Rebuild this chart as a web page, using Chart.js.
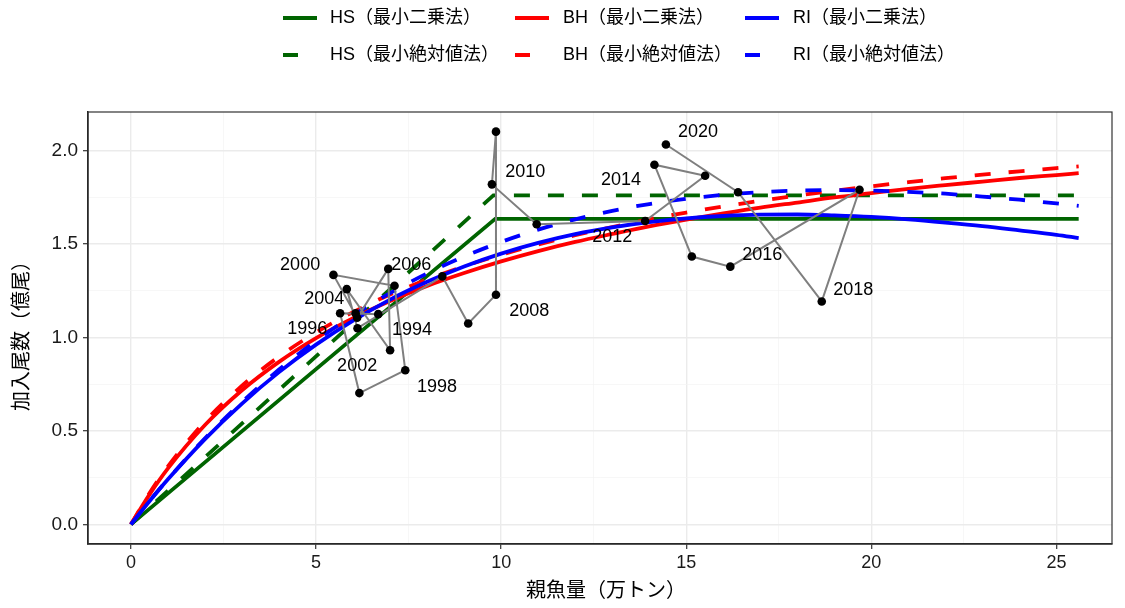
<!DOCTYPE html>
<html>
<head>
<meta charset="utf-8">
<script src="https://cdn.jsdelivr.net/npm/chart.js@4.4.1/dist/chart.umd.min.js"></script>
<style>
  html, body { margin: 0; padding: 0; background: #fff; }
  #wrap { width: 1125px; height: 608px; }
</style>
</head>
<body>
<div id="wrap"><canvas id="myChart" width="1125" height="608"></canvas></div>
<script>
// observed stock (SSB, 10k t) and recruits (100M fish) by year
const years = [1994, 1995, 1996, 1997, 1998, 1999, 2000, 2001, 2002, 2003, 2004, 2005, 2006, 2007,
  2008, 2009, 2010, 2011, 2012, 2013, 2014, 2015, 2016, 2017, 2018, 2019, 2020];
const ssb = [6.68, 6.07, 5.65, 6.17, 7.41, 7.12, 5.47, 6.11, 6.95, 7.00, 5.83, 6.12, 8.41, 9.11,
  9.86, 9.86, 9.75, 10.96, 13.89, 15.51, 14.14, 15.15, 16.19, 19.68, 18.66, 16.40, 14.45];
const recruits = [1.124, 1.128, 1.129, 0.702, 0.824, 1.276, 1.334, 1.105, 1.366, 0.931, 1.258, 1.049, 1.326, 1.074,
  1.228, 2.100, 1.818, 1.605, 1.622, 1.864, 1.923, 1.432, 1.378, 1.789, 1.192, 1.776, 2.031];

// year labels and where their text sits (data units)
const labelYears = [1994, 1996, 1998, 2000, 2002, 2004, 2006, 2008, 2010, 2012, 2014, 2016, 2018, 2020];
const labelX = [7.59, 4.76, 8.27, 4.57, 6.11, 5.22, 7.57, 10.76, 10.65, 13.0, 13.24, 17.05, 19.51, 15.32];
const labelY = [1.040, 1.046, 0.735, 1.389, 0.847, 1.206, 1.389, 1.142, 1.882, 1.539, 1.839, 1.442, 1.255, 2.097];

// fitted curves
const curveX = [0, 0.5, 1, 2, 3, 4, 5, 6, 7, 8, 9, 10, 11, 12, 13, 14, 15, 16, 17, 18, 19, 20, 21, 22, 23, 24, 25, 25.6];
const bhLS = [0, 0.159, 0.299, 0.531, 0.717, 0.869, 0.996, 1.103, 1.195, 1.275, 1.344, 1.406, 1.461, 1.510, 1.553,
  1.594, 1.630, 1.663, 1.694, 1.721, 1.748, 1.771, 1.794, 1.814, 1.833, 1.852, 1.868, 1.878];
const bhLAD = [0, 0.166, 0.310, 0.550, 0.741, 0.897, 1.026, 1.135, 1.229, 1.309, 1.380, 1.442, 1.497, 1.546, 1.590,
  1.631, 1.667, 1.700, 1.730, 1.758, 1.784, 1.808, 1.830, 1.851, 1.870, 1.888, 1.905, 1.914];
const riLS = [0, 0.124, 0.241, 0.456, 0.646, 0.814, 0.961, 1.090, 1.202, 1.297, 1.379, 1.448, 1.505, 1.552, 1.588,
  1.616, 1.636, 1.649, 1.656, 1.657, 1.652, 1.644, 1.631, 1.614, 1.595, 1.572, 1.548, 1.531];
const riLAD = [0, 0.124, 0.242, 0.460, 0.654, 0.828, 0.982, 1.118, 1.237, 1.342, 1.432, 1.510, 1.576, 1.631, 1.676,
  1.713, 1.741, 1.762, 1.776, 1.785, 1.787, 1.785, 1.778, 1.768, 1.753, 1.736, 1.716, 1.703];
const hsLSX = [0, 9.84, 25.6];
const hsLS = [0, 1.634, 1.634];
const hsLADX = [0, 9.79, 25.6];
const hsLAD = [0, 1.759, 1.759];

const xTicks = [0, 2.5, 5, 7.5, 10, 12.5, 15, 17.5, 20, 22.5, 25];
const yTicks = [0, 0.25, 0.5, 0.75, 1, 1.25, 1.5, 1.75, 2];

const legendNames = ['HS（最小二乗法）', 'BH（最小二乗法）', 'RI（最小二乗法）',
  'HS（最小絶対値法）', 'BH（最小絶対値法）', 'RI（最小絶対値法）'];
const GREEN = '#006400', RED = '#FF0000', BLUE = '#0000FF';
const legendColors = [GREEN, RED, BLUE, GREEN, RED, BLUE];

const FONT = "'Liberation Sans', Arial, 'Noto Sans CJK JP', sans-serif";
const NARROW = "'Liberation Sans Narrow', 'Liberation Sans', Arial, 'Noto Sans CJK JP', sans-serif";
const DASH = [16, 18];

const pts = (xs, ys) => xs.map((x, i) => ({ x: x, y: ys[i] }));

const isMajorX = v => Math.abs(v % 5) < 1e-9;
const isMajorY = v => Math.abs((v * 2) % 1) < 1e-9;

const annotations = {
  id: 'annotations',
  afterDatasetsDraw(chart) {
    const { ctx, chartArea: a, scales: { x, y } } = chart;
    ctx.save();
    // year labels
    ctx.font = '18px ' + FONT;
    ctx.fillStyle = '#000';
    ctx.textAlign = 'center';
    ctx.textBaseline = 'middle';
    labelYears.forEach((yr, i) => {
      ctx.fillText(String(yr), x.getPixelForValue(labelX[i]), y.getPixelForValue(labelY[i]));
    });
    // panel border
    ctx.strokeStyle = '#333';
    ctx.lineWidth = 1.2;
    ctx.strokeRect(a.left, a.top, a.right - a.left, a.bottom - a.top);
    ctx.restore();
  },
  afterDraw(chart) {
    const { ctx, chartArea: a } = chart;
    ctx.save();
    ctx.fillStyle = '#000';
    ctx.font = '20px ' + FONT;
    ctx.textAlign = 'center';
    ctx.textBaseline = 'middle';
    ctx.fillText('親魚量（万トン）', (a.left + a.right) / 2 + 6, 591);
    ctx.save();
    ctx.translate(22, (a.top + a.bottom) / 2 + 3);
    ctx.rotate(-Math.PI / 2);
    ctx.fillText('加入尾数（億尾）', 0, 0);
    ctx.restore();

    // legend, 3 columns x 2 rows
    const sampleX = [283, 515, 745];
    const textX = [330, 563, 793];
    const rowY = [18, 55];
    ctx.font = '18px ' + FONT;
    ctx.textAlign = 'left';
    legendNames.forEach((name, i) => {
      const col = i % 3, row = Math.floor(i / 3);
      ctx.strokeStyle = legendColors[i];
      ctx.lineWidth = 4;
      ctx.beginPath();
      ctx.moveTo(sampleX[col], rowY[row]);
      ctx.lineTo(sampleX[col] + (row === 0 ? 34 : 15), rowY[row]);
      ctx.stroke();
      ctx.fillStyle = '#000';
      ctx.fillText(name, textX[col], rowY[row]);
    });
    ctx.restore();
  }
};

const curve = (data, color, dashed, order, straight) => ({
  data: data,
  showLine: true,
  borderColor: color,
  backgroundColor: color,
  borderWidth: 3.8,
  borderDash: dashed ? DASH : [],
  borderCapStyle: 'butt',
  pointRadius: 0,
  cubicInterpolationMode: straight ? 'default' : 'monotone',
  tension: 0,
  order: order
});

const ctx = document.getElementById('myChart');
new Chart(ctx, {
  type: 'scatter',
  data: {
    datasets: [
      curve(pts(hsLSX, hsLS), GREEN, false, 6, true),
      curve(pts(hsLADX, hsLAD), GREEN, true, 5, true),
      curve(pts(curveX, bhLS), RED, false, 4),
      curve(pts(curveX, bhLAD), RED, true, 3),
      curve(pts(curveX, riLS), BLUE, false, 2),
      curve(pts(curveX, riLAD), BLUE, true, 1),
      {
        data: pts(ssb, recruits),
        showLine: true,
        borderColor: '#7F7F7F',
        borderWidth: 2,
        pointRadius: 4.3,
        pointBackgroundColor: '#000',
        pointBorderWidth: 0,
        tension: 0,
        order: 0
      }
    ]
  },
  options: {
    responsive: false,
    animation: false,
    layout: { padding: { top: 112, left: 0, right: 13, bottom: 0 } },
    plugins: {
      legend: { display: false },
      tooltip: { enabled: false }
    },
    scales: {
      x: {
        type: 'linear',
        min: -1.16,
        max: 26.5,
        afterBuildTicks: s => { s.ticks = xTicks.map(v => ({ value: v })); },
        afterFit: s => { s.height = 64; },
        ticks: {
          autoSkip: false,
          maxRotation: 0,
          padding: 3,
          font: { size: 18, family: NARROW },
          color: '#1a1a1a',
          callback: v => isMajorX(v) ? String(v) : ''
        },
        grid: {
          color: c => isMajorX(c.tick.value) ? '#EBEBEB' : '#F4F4F4',
          lineWidth: c => isMajorX(c.tick.value) ? 1.4 : 0.7,
          tickColor: c => isMajorX(c.tick.value) ? '#333' : 'rgba(0,0,0,0)',
          tickWidth: 1.2,
          tickLength: 5
        },
        border: { display: true, color: '#1a1a1a', width: 1.5 }
      },
      y: {
        type: 'linear',
        min: -0.105,
        max: 2.205,
        afterBuildTicks: s => { s.ticks = yTicks.map(v => ({ value: v })); },
        afterFit: s => { s.width = 88; },
        ticks: {
          autoSkip: false,
          padding: 5,
          font: { size: 19, family: FONT },
          color: '#1a1a1a',
          callback: v => isMajorY(v) ? v.toFixed(1) : ''
        },
        grid: {
          color: c => isMajorY(c.tick.value) ? '#EBEBEB' : '#F4F4F4',
          lineWidth: c => isMajorY(c.tick.value) ? 1.4 : 0.7,
          tickColor: c => isMajorY(c.tick.value) ? '#333' : 'rgba(0,0,0,0)',
          tickWidth: 1.2,
          tickLength: 5
        },
        border: { display: true, color: '#1a1a1a', width: 1.5 }
      }
    }
  },
  plugins: [annotations]
});
</script>
</body>
</html>
